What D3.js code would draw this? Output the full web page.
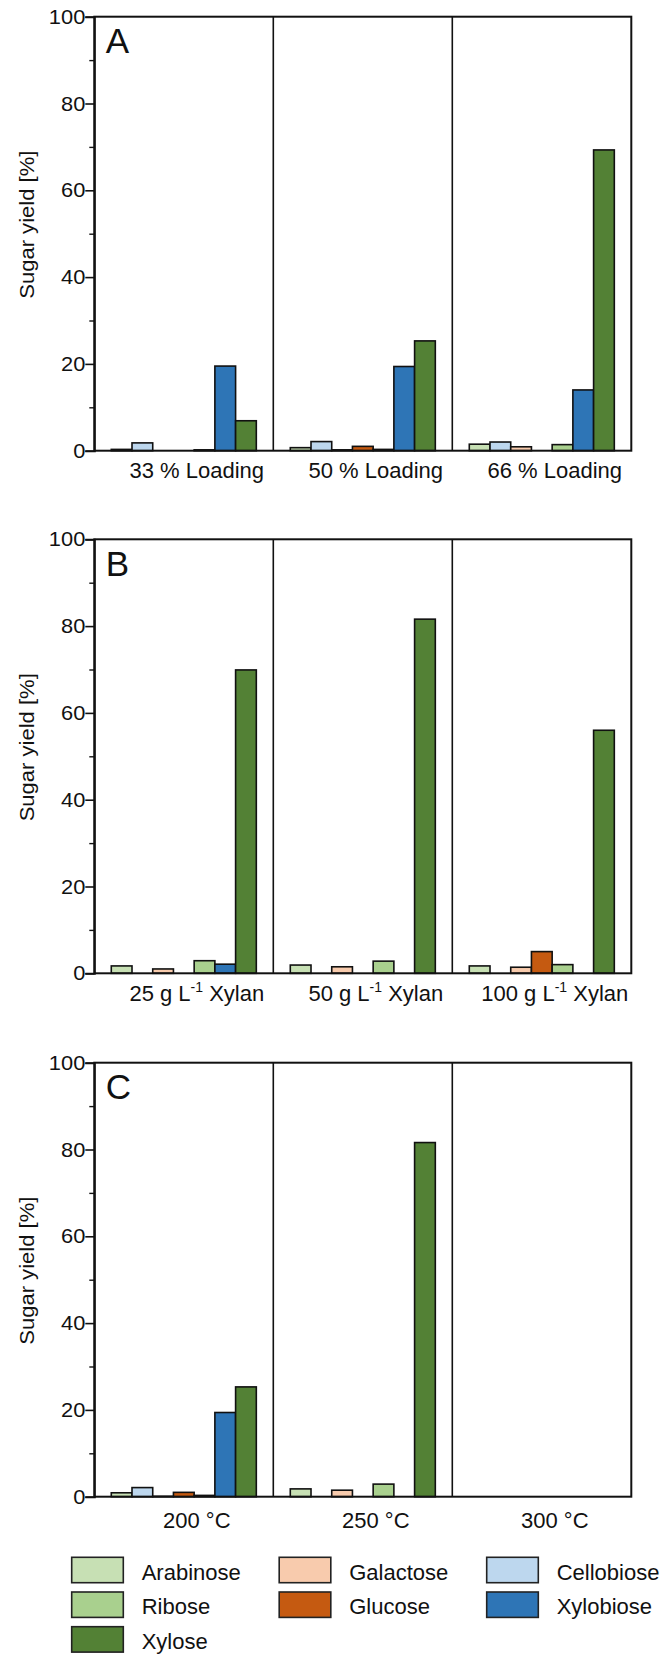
<!DOCTYPE html>
<html>
<head>
<meta charset="utf-8">
<script src="https://cdn.jsdelivr.net/npm/d3@7"></script>
<style>
  body { margin: 0; background: #fff; }
  text { font-family: 'Liberation Sans', Arial, sans-serif; fill: #111; }
</style>
</head>
<body>
<div id="chart"></div>
<script>
// sugars in bar order (alphabetical, left to right inside each group)
var sugars = ['Arabinose', 'Cellobiose', 'Galactose', 'Glucose', 'Ribose', 'Xylobiose', 'Xylose']
var sugarColors = ['#c7e0b4', '#bdd7ee', '#f8cbad', '#c55a11', '#a9d08e', '#2e75b6', '#538135']
// legend is laid out row by row
var legendOrder = ['Arabinose', 'Galactose', 'Cellobiose', 'Ribose', 'Glucose', 'Xylobiose', 'Xylose']

var yTicks = [0, 20, 40, 60, 80, 100]
var yMinorTicks = [10, 30, 50, 70, 90]

// panel A: solid loading
var loadingLabels = ['33 % Loading', '50 % Loading', '66 % Loading']
var loadingValues = [
  [0.3, 1.8, 0, 0, 0.2, 19.5, 6.9],
  [0.7, 2.1, 0.2, 1.0, 0.3, 19.4, 25.3],
  [1.5, 2.0, 0.9, 0, 1.4, 14.0, 69.3]
]

// panel B: xylan concentration
var xylanLabels = ['25 g L', '50 g L', '100 g L']
var xylanValues = [
  [1.7, 0, 1.0, 0, 2.9, 2.1, 69.9],
  [1.9, 0, 1.5, 0, 2.8, 0, 81.6],
  [1.7, 0, 1.4, 5.0, 2.0, 0, 56.0]
]

// panel C: temperature
var tempLabels = ['200 °C', '250 °C', '300 °C']
var tempValues = [
  [0.9, 2.1, 0.1, 1.0, 0.3, 19.4, 25.3],
  [1.8, 0, 1.5, 0, 2.9, 0, 81.6],
  [0, 0, 0, 0, 0, 0, 0]
]

var width = 666
var height = 1654
var svg = d3.select('#chart').append('svg')
  .attr('width', width)
  .attr('height', height)

var left = 94.3
var right = 631.3
var plotH = 434

var panels = [
  { letter: 'A', top: 16.7, labels: loadingLabels, values: loadingValues, sup: false, labelDy: 27.6 },
  { letter: 'B', top: 539.3, labels: xylanLabels, values: xylanValues, sup: true, labelDy: 27.8 },
  { letter: 'C', top: 1062.7, labels: tempLabels, values: tempValues, sup: false, labelDy: 31 }
]

var color = d3.scaleOrdinal().domain(sugars).range(sugarColors)

panels.forEach(function (p) {
  var g = svg.append('g')
  var bottom = p.top + plotH

  var x0 = d3.scaleBand().domain([0, 1, 2]).range([left, right]).padding(0)
  var x1 = d3.scaleBand().domain(sugars).range([0, x0.bandwidth()])
    .paddingInner(0).paddingOuter(0.82)
  var y = d3.scaleLinear().domain([0, 100]).range([bottom, p.top])

  // bars
  p.values.forEach(function (vals, gi) {
    var rows = vals.map(function (v, i) { return { sugar: sugars[i], value: v } })
      .filter(function (d) { return d.value > 0 })
    g.selectAll('.bar-' + gi)
      .data(rows)
      .enter()
      .append('rect')
      .attr('x', function (d) { return x0(gi) + x1(d.sugar) })
      .attr('y', function (d) { return y(d.value) })
      .attr('width', x1.bandwidth())
      .attr('height', function (d) { return bottom - y(d.value) })
      .style('fill', function (d) { return color(d.sugar) })
      .style('stroke', '#111')
      .style('stroke-width', 1.6)
  })

  // frame and group dividers
  g.append('rect')
    .attr('x', left).attr('y', p.top)
    .attr('width', right - left).attr('height', plotH)
    .style('fill', 'none').style('stroke', '#111').style('stroke-width', 2)
  ;[1, 2].forEach(function (k) {
    g.append('line')
      .attr('x1', x0(k)).attr('x2', x0(k))
      .attr('y1', p.top).attr('y2', bottom)
      .style('stroke', '#111').style('stroke-width', 1.6)
  })

  // y axis, major ticks with labels
  var yAxis = g.append('g')
    .attr('transform', 'translate(' + left + ',0)')
    .call(d3.axisLeft(y).tickValues(yTicks).tickSize(9).tickFormat(''))
  yAxis.select('.domain').style('stroke', '#111').style('stroke-width', 2)
  yAxis.selectAll('line').style('stroke', '#111').style('stroke-width', 1.6)

  var minorAxis = g.append('g')
    .attr('transform', 'translate(' + left + ',0)')
    .call(d3.axisLeft(y).tickValues(yMinorTicks).tickSize(5).tickFormat(''))
  minorAxis.select('.domain').remove()
  minorAxis.selectAll('line').style('stroke', '#111').style('stroke-width', 1.4)

  g.selectAll('.ytick-label')
    .data(yTicks)
    .enter()
    .append('text')
    .attr('transform', function (d) { return 'translate(' + (left - 9) + ',' + y(d) + ') scale(1.12,1)' })
    .attr('dy', '0.36em')
    .attr('text-anchor', 'end')
    .style('font-size', '19.5px')
    .text(function (d) { return d })

  // axis title
  g.append('text')
    .attr('transform', 'translate(33.5,' + (p.top + plotH / 2 - 9) + ') rotate(-90) scale(1.13,1)')
    .attr('text-anchor', 'middle')
    .style('font-size', '19.5px')
    .text('Sugar yield [%]')

  // panel letter
  g.append('text')
    .attr('x', left + 11.5)
    .attr('y', p.top + 36.6)
    .style('font-size', '35px')
    .text(p.letter)

  // group labels
  p.labels.forEach(function (lab, gi) {
    var t = g.append('text')
      .attr('x', x0(gi) + x0.bandwidth() / 2 + 13)
      .attr('y', bottom + p.labelDy)
      .attr('text-anchor', 'middle')
      .style('font-size', '22px')
    if (p.sup) {
      t.append('tspan').text(lab)
      t.append('tspan').attr('dy', -9).style('font-size', '14px').text('-1')
      t.append('tspan').attr('dy', 9).text(' Xylan')
    } else {
      t.text(lab)
    }
  })
})

// legend
var legX = d3.scaleBand().domain([0, 1, 2]).range([71.7, 71.7 + 3 * 207.5])
var legY = d3.scaleBand().domain([0, 1, 2]).range([1557.3, 1557.3 + 3 * 34.7])

var legend = svg.selectAll('.legend-item')
  .data(legendOrder)
  .enter()
  .append('g')
  .attr('transform', function (d, i) {
    return 'translate(' + legX(i % 3) + ',' + legY(Math.floor(i / 3)) + ')'
  })

legend.append('rect')
  .attr('width', 51.6)
  .attr('height', 25.4)
  .style('fill', function (d) { return color(d) })
  .style('stroke', '#222')
  .style('stroke-width', 1.6)

legend.append('text')
  .attr('x', 70)
  .attr('y', 22.4)
  .style('font-size', '22px')
  .text(function (d) { return d })
</script>
</body>
</html>
